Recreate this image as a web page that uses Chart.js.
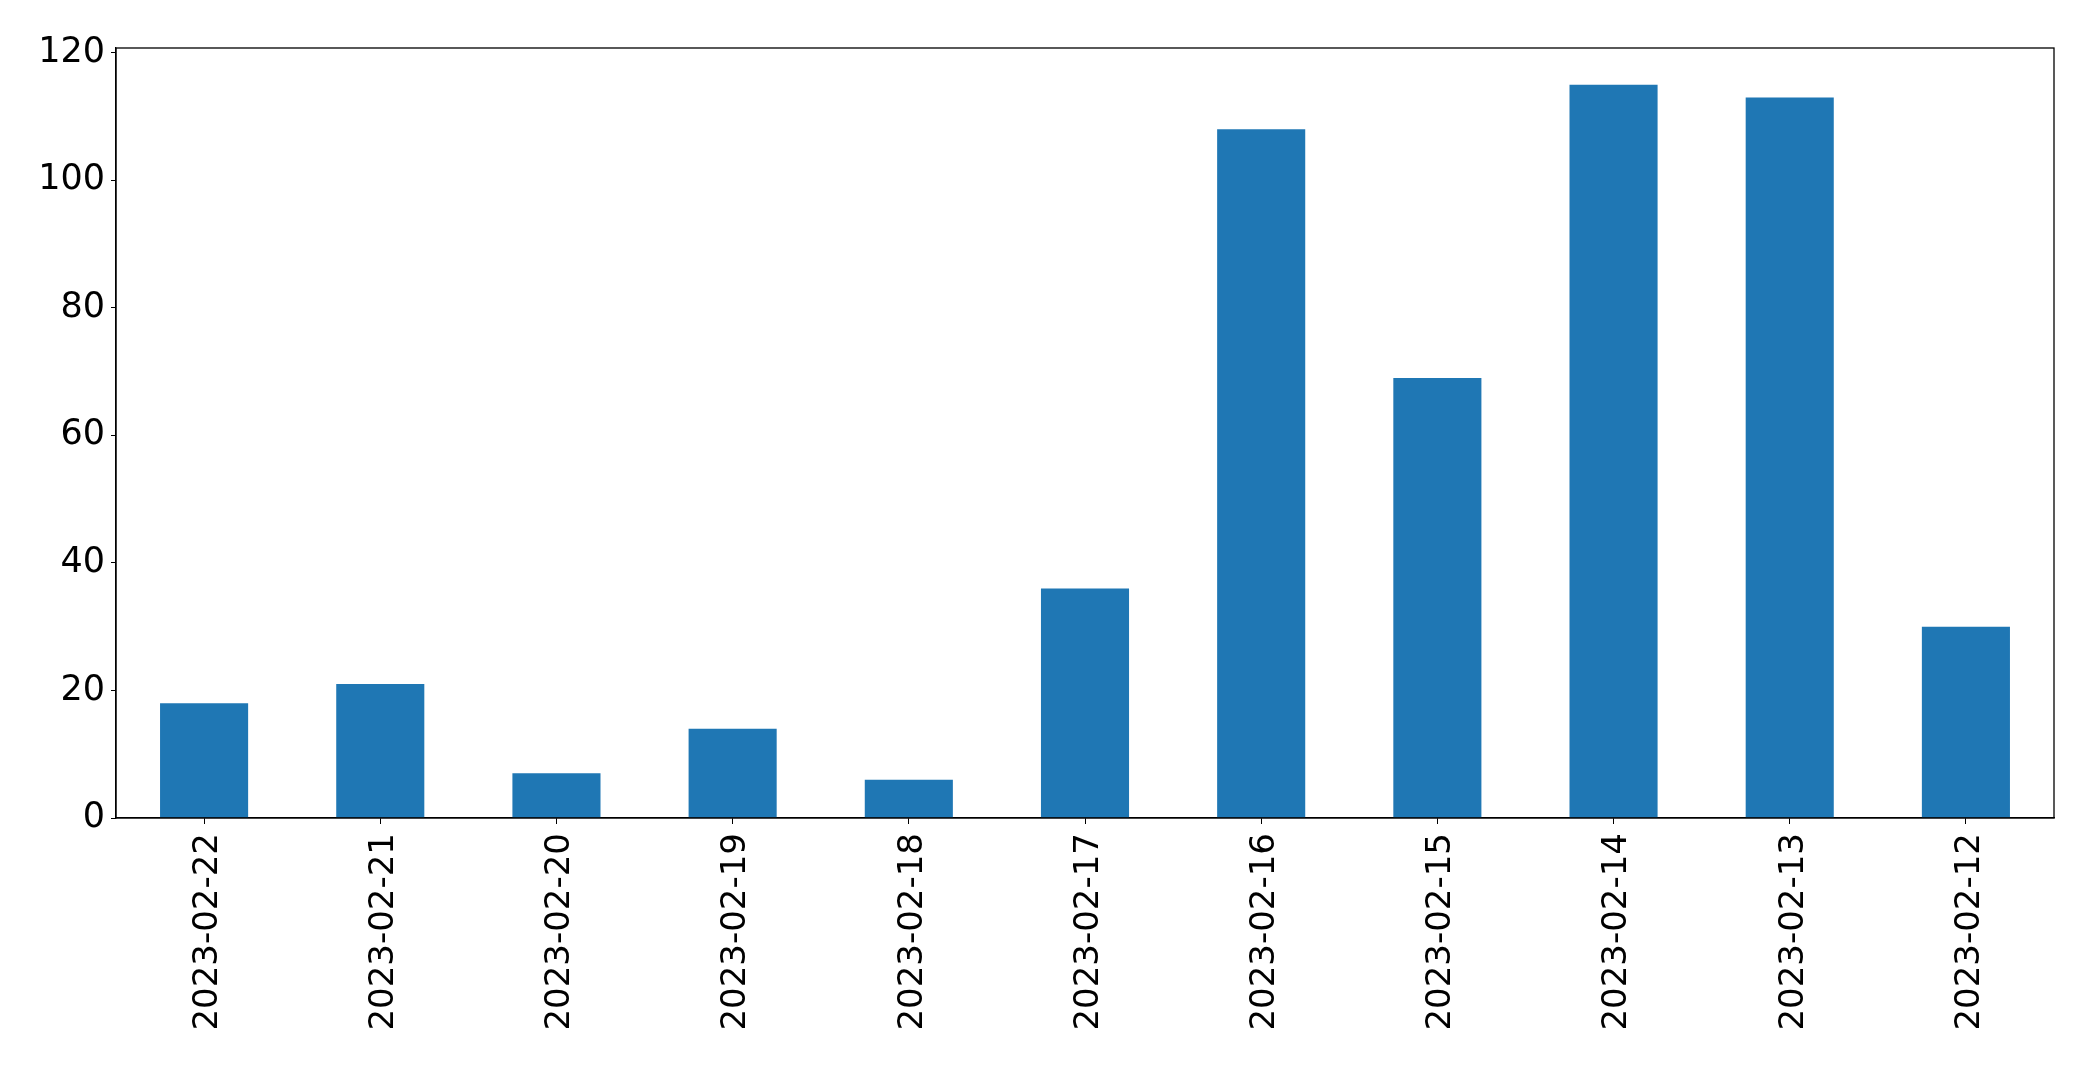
<!DOCTYPE html>
<html>
<head>
<meta charset="utf-8">
<script src="https://cdn.jsdelivr.net/npm/chart.js@4"></script>
<style>
html,body{margin:0;padding:0;background:#fff;}
#wrap{width:2093px;height:1070px;position:relative;}
</style>
</head>
<body>
<div id="wrap"><canvas id="c" width="2093" height="1070"></canvas></div>
<script>
const categories = ["2023-02-22","2023-02-21","2023-02-20","2023-02-19","2023-02-18","2023-02-17","2023-02-16","2023-02-15","2023-02-14","2023-02-13","2023-02-12"];
const values = [18, 21, 7, 14, 6, 36, 108, 69, 115, 113, 30];
const yTicks = [0, 20, 40, 60, 80, 100, 120];

const frame = {
  id: 'frame',
  afterDatasetsDraw(chart) {
    const a = chart.chartArea, ctx = chart.ctx;
    ctx.save();
    ctx.strokeStyle = '#000';
    ctx.lineWidth = 1.3;
    ctx.strokeRect(a.left, a.top, a.right - a.left, a.bottom - a.top);
    ctx.restore();
  }
};

new Chart(document.getElementById('c'), {
  type: 'bar',
  data: {
    labels: categories,
    datasets: [{ data: values, backgroundColor: '#1f77b4', borderWidth: 0,
      categoryPercentage: 1.0, barPercentage: 0.5 }]
  },
  options: {
    responsive: false,
    animation: false,
    layout: { padding: { left: 0, top: 48, right: 39, bottom: 0 } },
    plugins: { legend: { display: false }, tooltip: { enabled: false } },
    scales: {
      x: {
        offset: true,
        grid: { display: true, offset: false, drawOnChartArea: false, tickLength: 6, color: '#000', tickColor: '#000' },
        border: { display: true, color: '#000', width: 1.3 },
        ticks: { color: '#000', font: { family: 'DejaVu Sans', size: 34 }, minRotation: 90, maxRotation: 90, padding: 9, labelOffset: 4, autoSkip: false },
        afterFit(s) { s.height = 252; }
      },
      y: {
        min: 0, max: 120.75,
        afterBuildTicks(s) { s.ticks = yTicks.map(v => ({ value: v })); },
        grid: { display: true, drawOnChartArea: false, tickLength: 5, color: '#000', tickColor: '#000' },
        border: { display: true, color: '#000', width: 1.3 },
        ticks: { color: '#000', font: { family: 'DejaVu Sans', size: 35 }, padding: 6 },
        afterFit(s) { s.width = 116; }
      }
    }
  },
  plugins: [frame]
});
</script>
</body>
</html>
